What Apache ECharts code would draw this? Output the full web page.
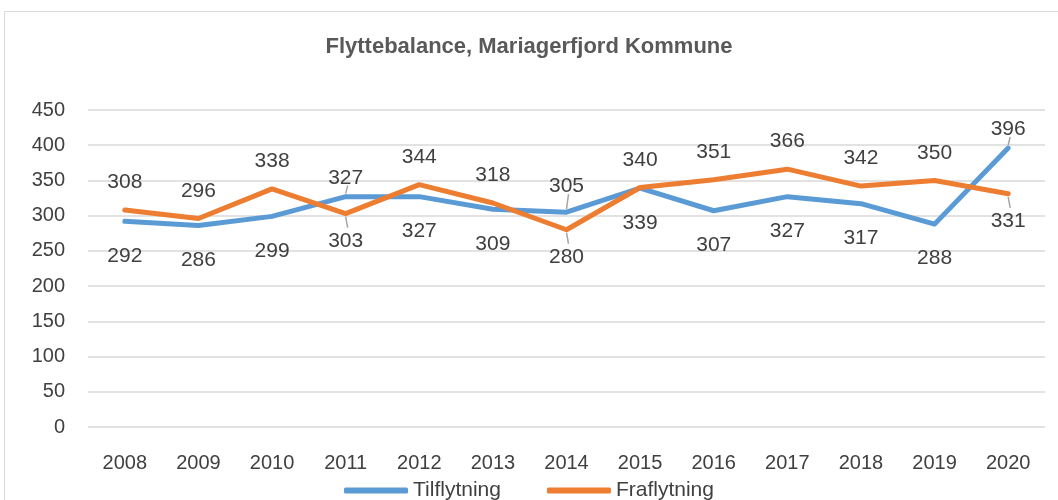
<!DOCTYPE html>
<html>
<head>
<meta charset="utf-8">
<script src="https://cdn.jsdelivr.net/npm/echarts@6/dist/echarts.min.js"></script>
<style>
  html, body { margin: 0; padding: 0; background: #fff; }
  #chart { width: 1058px; height: 500px; }
</style>
</head>
<body>
<div id="chart"></div>
<script>
const years = ['2008', '2009', '2010', '2011', '2012', '2013', '2014', '2015', '2016', '2017', '2018', '2019', '2020']
const tilflytning = [292, 286, 299, 327, 327, 309, 305, 339, 307, 327, 317, 288, 396]
const fraflytning = [308, 296, 338, 303, 344, 318, 280, 340, 351, 366, 342, 350, 331]
// which labels sit above the line (true) or below (false)
const tilAbove = [false, false, false, true, false, false, true, false, false, false, false, false, true]
const fraAbove = [true, true, true, false, true, true, false, true, true, true, true, true, false]
// label gap from the point
const tilDist = [24, 24, 24, 8, 24, 24, 15, 24, 24, 24, 24, 24, 8]
const fraDist = [17, 17, 17, 17, 17, 17, 17, 17, 17, 17, 17, 17, 17]
// data points whose label has a small leader line
const tilLeader = [3, 6, 12]
const fraLeader = [3, 6, 12]

const font = 'Liberation Sans'
const textColor = '#404040'

function buildData(values, above, dist) {
  return values.map((v, i) => ({
    value: v,
    label: {
      position: above[i] ? 'top' : 'bottom',
      distance: dist[i]
    }
  }))
}

function makeSeries(name, color, values, above, dist) {
  return {
    name: name,
    type: 'line',
    data: buildData(values, above, dist),
    symbol: 'circle',
    symbolSize: 0.1,
    showSymbol: true,
    itemStyle: { color: color },
    lineStyle: { color: color, width: 5, cap: 'round', join: 'round' },
    label: {
      show: true,
      fontFamily: font,
      fontSize: 21,
      color: textColor
    },
    emphasis: { disabled: true },
    animation: false
  }
}

// leader lines: [categoryIndex, value, direction (-1 up, 1 down), gap to label]
const leaderData = []
tilLeader.forEach(i => leaderData.push([i, tilflytning[i], tilAbove[i] ? -1 : 1, tilDist[i]]))
fraLeader.forEach(i => leaderData.push([i, fraflytning[i], fraAbove[i] ? -1 : 1, fraDist[i]]))

const leaderSeries = {
  type: 'custom',
  silent: true,
  z: 1,
  data: leaderData,
  renderItem: function (params, api) {
    const p = api.coord([api.value(0), api.value(1)])
    const dir = api.value(2)
    const gap = api.value(3)
    const len = dir > 0 ? gap - 6 : Math.max(gap, 8)
    return {
      type: 'line',
      shape: {
        x1: p[0], y1: p[1] + dir * 3,
        x2: p[0] + 2, y2: p[1] + dir * (3 + len)
      },
      style: { stroke: '#a6a6a6', lineWidth: 1.5 }
    }
  }
}

const chart = echarts.init(document.getElementById('chart'))
chart.setOption({
  backgroundColor: '#fff',
  animation: false,
  graphic: [{
    type: 'rect',
    shape: { x: 4.5, y: 11.5, width: 1100, height: 600 },
    style: { fill: 'none', stroke: '#d9d9d9', lineWidth: 1 },
    silent: true
  }],
  title: {
    text: 'Flyttebalance, Mariagerfjord Kommune',
    left: 'center',
    top: 31,
    textStyle: { fontFamily: font, fontSize: 22, fontWeight: 'bold', color: '#595959' }
  },
  legend: {
    bottom: -6,
    left: 'center',
    itemWidth: 64,
    itemHeight: 6,
    itemGap: 46,
    icon: 'roundRect',
    textStyle: { fontFamily: font, fontSize: 21, color: textColor },
    data: ['Tilflytning', 'Fraflytning']
  },
  grid: { left: 88, right: 13, top: 110, bottom: 73, containLabel: false },
  xAxis: {
    type: 'category',
    data: years,
    boundaryGap: true,
    axisLine: { show: false },
    axisTick: { show: false },
    axisLabel: { fontFamily: font, fontSize: 20, color: textColor, margin: 26 }
  },
  yAxis: {
    type: 'value',
    min: 0,
    max: 450,
    interval: 50,
    axisLine: { show: false },
    axisTick: { show: false },
    axisLabel: { fontFamily: font, fontSize: 20, color: textColor, margin: 23 },
    splitLine: { lineStyle: { color: '#d9d9d9', width: 1.5 } }
  },
  series: [
    leaderSeries,
    makeSeries('Tilflytning', '#5b9bd5', tilflytning, tilAbove, tilDist),
    makeSeries('Fraflytning', '#ed7d31', fraflytning, fraAbove, fraDist)
  ]
})
</script>
</body>
</html>
